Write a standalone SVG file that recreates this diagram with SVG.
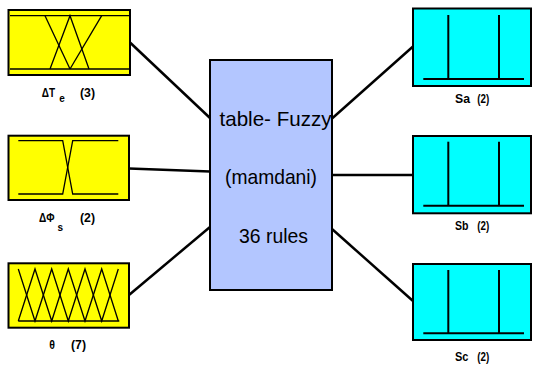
<svg xmlns="http://www.w3.org/2000/svg" width="533" height="365" viewBox="0 0 533 365">
<style>
.in{fill:#ffff00;stroke:#000;stroke-width:2}
.out{fill:#00ffff;stroke:#000;stroke-width:2}
.mf{fill:none;stroke:#000;stroke-width:1.3}
.sp{fill:none;stroke:#000;stroke-width:2}
.lbl{font-family:"Liberation Sans",Arial,sans-serif;font-weight:bold;font-size:13px;fill:#000}
.sub{font-size:10px}
.ctr{font-family:"Liberation Sans",Arial,sans-serif;font-size:21px;fill:#000}
.con{stroke:#000;stroke-width:2.5;fill:none}
</style>
<rect width="533" height="365" fill="#fff"/>
<g id="connectors">
<line class="con" x1="130" y1="42.5" x2="210" y2="118"/>
<line class="con" x1="129" y1="168.5" x2="210" y2="171.5"/>
<line class="con" x1="129" y1="295" x2="210" y2="227"/>
<line class="con" x1="332" y1="118.5" x2="413" y2="46.5"/>
<line class="con" x1="332" y1="175" x2="413" y2="175"/>
<line class="con" x1="332" y1="229" x2="413" y2="301"/>
</g>
<g id="center">
<rect x="210" y="60" width="122" height="230" fill="#b3c6ff" stroke="#000" stroke-width="2"/>
<text class="ctr" x="219.5" y="126" textLength="112" lengthAdjust="spacingAndGlyphs">table- Fuzzy</text>
<text class="ctr" x="225" y="184" textLength="92" lengthAdjust="spacingAndGlyphs">(mamdani)</text>
<text class="ctr" x="239" y="243" textLength="69" lengthAdjust="spacingAndGlyphs">36 rules</text>
</g>
<g id="dTe">
<rect class="in" x="8.5" y="10" width="121.5" height="65"/>
<line class="mf" x1="10" y1="15.7" x2="129" y2="15.7"/>
<line class="mf" x1="10" y1="69" x2="129" y2="69"/>
<polyline class="mf" points="45,15.7 70,69"/>
<polyline class="mf" points="50,69 70,15.7 89,69"/>
<polyline class="mf" points="70,69 101.7,15.7"/>
<text class="lbl" x="41.7" y="97"><tspan textLength="13.3" lengthAdjust="spacingAndGlyphs">ΔT</tspan><tspan class="sub" x="59.3" y="102">e</tspan></text>
<text class="lbl" x="80" y="97" textLength="15" lengthAdjust="spacingAndGlyphs">(3)</text>
</g>
<g id="dPhis">
<rect class="in" x="8.5" y="135.7" width="120.5" height="64.3"/>
<polyline class="mf" points="18.3,140.7 62.7,140.7 72.7,194 118.3,194"/>
<polyline class="mf" points="18.3,194 62.7,194 72.7,140.7 118.3,140.7"/>
<text class="lbl" x="39" y="221.5"><tspan textLength="15.5" lengthAdjust="spacingAndGlyphs">ΔΦ</tspan><tspan class="sub" x="57.5" y="231">s</tspan></text>
<text class="lbl" x="80" y="221.5" textLength="15" lengthAdjust="spacingAndGlyphs">(2)</text>
</g>
<g id="theta">
<rect class="in" x="8.5" y="263.3" width="120.5" height="64.4"/>
<polyline class="mf" points="18.3,269 35,321 51.7,269 68.3,321 85,269 101.7,321 118.3,269"/>
<polyline class="mf" points="18.3,321 35,269 51.7,321 68.3,269 85,321 101.7,269 118.3,321"/>
<line class="mf" x1="18.3" y1="321" x2="119.3" y2="321"/>
<text class="lbl" x="49.3" y="349.3" textLength="5.7" lengthAdjust="spacingAndGlyphs">θ</text>
<text class="lbl" x="71" y="349.3" textLength="15" lengthAdjust="spacingAndGlyphs">(7)</text>
</g>
<g id="Sa">
<rect class="out" x="413" y="8.5" width="118" height="77.5"/>
<line class="sp" x1="423.3" y1="79" x2="524" y2="79"/>
<line class="sp" x1="448.3" y1="15" x2="448.3" y2="79"/>
<line class="sp" x1="499" y1="15" x2="499" y2="79"/>
<text class="lbl" x="455" y="103.3" textLength="15" lengthAdjust="spacingAndGlyphs">Sa</text>
<text class="lbl" x="477.3" y="103.3" textLength="12" lengthAdjust="spacingAndGlyphs">(2)</text>
</g>
<g id="Sb">
<rect class="out" x="413" y="136" width="118" height="77.3"/>
<line class="sp" x1="423.3" y1="205.7" x2="524" y2="205.7"/>
<line class="sp" x1="448.3" y1="141.7" x2="448.3" y2="205.7"/>
<line class="sp" x1="499" y1="141.7" x2="499" y2="205.7"/>
<text class="lbl" x="455" y="230" textLength="13.5" lengthAdjust="spacingAndGlyphs">Sb</text>
<text class="lbl" x="477.3" y="230" textLength="12" lengthAdjust="spacingAndGlyphs">(2)</text>
</g>
<g id="Sc">
<rect class="out" x="413" y="264" width="118" height="76"/>
<line class="sp" x1="423.3" y1="333.3" x2="524" y2="333.3"/>
<line class="sp" x1="448.3" y1="270" x2="448.3" y2="333.3"/>
<line class="sp" x1="499" y1="270" x2="499" y2="333.3"/>
<text class="lbl" x="455" y="360.5" textLength="13.5" lengthAdjust="spacingAndGlyphs">Sc</text>
<text class="lbl" x="477.3" y="360.5" textLength="12" lengthAdjust="spacingAndGlyphs">(2)</text>
</g>
</svg>
